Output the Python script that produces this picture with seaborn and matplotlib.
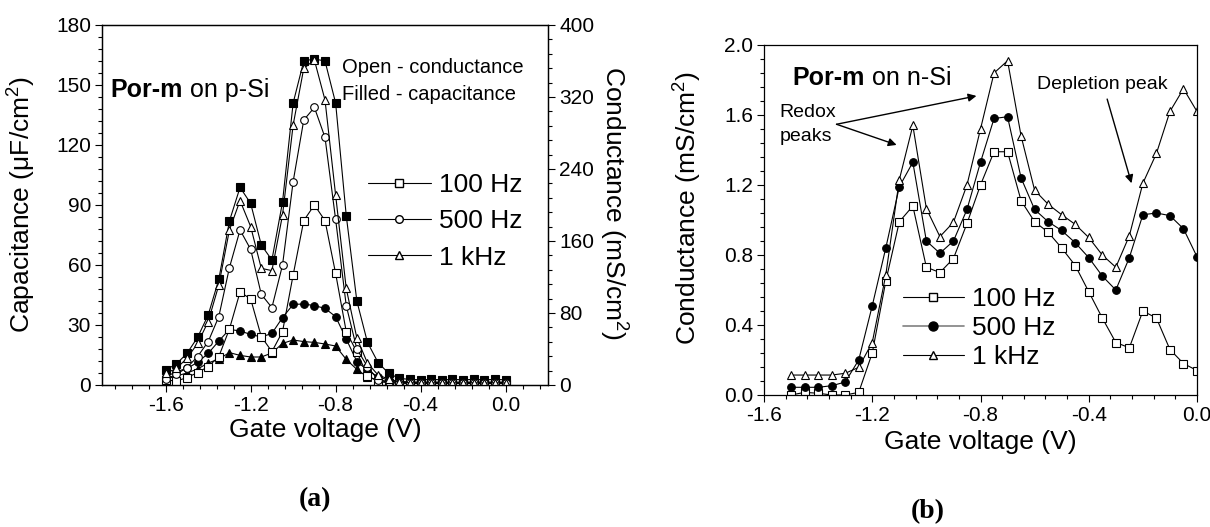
import matplotlib
matplotlib.use("Agg")
import matplotlib.pyplot as plt
from matplotlib.lines import Line2D
from matplotlib.ticker import MultipleLocator, AutoMinorLocator
import seaborn as sns

# ---------------------------------------------------------------
# data
# ---------------------------------------------------------------
# (a) Por-m on p-Si : capacitance (filled, uF/cm2) and conductance (open, mS/cm2)
volt_a = [-1.60, -1.55, -1.50, -1.45, -1.40, -1.35, -1.30, -1.25, -1.20, -1.15, -1.10,
          -1.05, -1.00, -0.95, -0.90, -0.85, -0.80, -0.75, -0.70, -0.65, -0.60,
          -0.55, -0.50, -0.45, -0.40, -0.35, -0.30, -0.25, -0.20, -0.15, -0.10, -0.05, 0.00]

cap_100 = [7.5, 10.5, 15.8, 23.8, 35.0, 52.8, 82.0, 98.8, 90.8, 70.0, 62.5,
           91.5, 141.0, 162.0, 163.0, 162.0, 141.0, 84.7, 42.0, 21.3, 11.2,
           5.8, 3.3, 2.8, 2.6, 2.8, 2.6, 2.8, 2.6, 2.8, 2.6, 2.8, 2.6]
cap_500 = [4.0, 6.7, 8.3, 11.3, 15.8, 22.0, 27.8, 27.0, 25.3, 24.0, 25.8,
           33.7, 40.3, 40.5, 39.7, 38.3, 34.2, 23.0, 11.7, 7.5, 4.0,
           2.5, 1.8, 1.5, 1.5, 1.4, 1.5, 1.4, 1.5, 1.4, 1.5, 1.4, 1.5]
cap_1k = [3.0, 4.5, 6.0, 8.0, 11.0, 13.0, 16.2, 14.8, 14.0, 14.0, 16.0,
          20.8, 22.5, 21.7, 21.3, 20.5, 19.5, 12.8, 7.8, 4.0, 2.5,
          1.8, 1.5, 1.3, 1.2, 1.3, 1.2, 1.3, 1.2, 1.3, 1.2, 1.3, 1.2]

cond_100 = [5.6, 4.4, 8.2, 13.8, 20.4, 31.6, 62.2, 103.3, 95.6, 53.8, 37.1,
            59.3, 122.2, 182.7, 200.0, 182.7, 124.0, 59.3, 36.7, 10.4, 3.8,
            2.5, 2.0, 1.8, 1.6, 1.8, 1.6, 1.8, 1.6, 1.8, 1.6, 1.8, 1.6]
cond_500 = [6.2, 11.8, 19.3, 31.6, 48.2, 76.0, 130.4, 172.2, 150.7, 100.7, 86.0,
            133.3, 226.0, 294.4, 308.4, 275.1, 184.0, 88.2, 40.0, 20.4, 5.6,
            3.0, 2.2, 2.0, 1.8, 2.0, 1.8, 2.0, 1.8, 2.0, 1.8, 2.0, 1.8]
cond_1k = [12.9, 18.4, 29.6, 46.2, 70.4, 111.1, 172.2, 204.9, 176.0, 129.6, 127.1,
           188.9, 288.9, 351.8, 361.1, 316.7, 211.1, 107.3, 52.2, 24.4, 11.1,
           6.5, 3.5, 2.5, 2.2, 2.5, 2.2, 2.5, 2.2, 2.5, 2.2, 2.5, 2.2]

# (b) Por-m on n-Si : conductance (mS/cm2)
volt_b = [-1.50, -1.45, -1.40, -1.35, -1.30, -1.25, -1.20, -1.15, -1.10, -1.05, -1.00,
          -0.95, -0.90, -0.85, -0.80, -0.75, -0.70, -0.65, -0.60, -0.55, -0.50,
          -0.45, -0.40, -0.35, -0.30, -0.25, -0.20, -0.15, -0.10, -0.05, 0.00]
gn_100 = [0.00, 0.015, 0.01, 0.00, 0.00, 0.015, 0.24, 0.65, 0.99, 1.08, 0.73,
          0.70, 0.78, 0.98, 1.20, 1.39, 1.39, 1.11, 0.99, 0.93, 0.84,
          0.74, 0.59, 0.44, 0.30, 0.27, 0.48, 0.44, 0.26, 0.18, 0.14]
gn_500 = [0.044, 0.044, 0.044, 0.053, 0.074, 0.20, 0.51, 0.84, 1.19, 1.33, 0.88,
          0.81, 0.88, 1.06, 1.33, 1.58, 1.59, 1.24, 1.06, 0.99, 0.94,
          0.87, 0.785, 0.68, 0.60, 0.785, 1.03, 1.04, 1.025, 0.95, 0.79]
gn_1k = [0.114, 0.114, 0.114, 0.114, 0.124, 0.158, 0.30, 0.686, 1.23, 1.54, 1.065,
         0.905, 0.987, 1.20, 1.52, 1.84, 1.91, 1.48, 1.17, 1.09, 1.03,
         0.975, 0.90, 0.80, 0.73, 0.91, 1.21, 1.38, 1.62, 1.75, 1.62]

freq_labels = ["100 Hz", "500 Hz", "1 kHz"]

#----------------------------------------------------
# style
#----------------------------------------------------
sns.set_theme(style="ticks", rc={
    "axes.edgecolor": "black", "axes.labelcolor": "black", "text.color": "black",
    "xtick.color": "black", "ytick.color": "black", "axes.linewidth": 0.9,
})
plt.rcParams["font.family"] = ["Liberation Sans", "DejaVu Sans"]
plt.rcParams["mathtext.fontset"] = "custom"
plt.rcParams["mathtext.rm"] = "Liberation Sans"
plt.rcParams["mathtext.it"] = "Liberation Sans:italic"

LW = 0.8
MS = 5.5


def draw(ax, x, y, marker, filled):
    face = "black" if filled else "white"
    sns.lineplot(x=x, y=y, ax=ax, color="black", linewidth=LW, marker=marker,
                 markersize=MS, markerfacecolor=face, markeredgecolor="black",
                 markeredgewidth=0.8, legend=False)


def style_ticks(ax):
    ax.tick_params(axis="both", which="major", direction="out", length=5, width=0.8,
                   labelsize=15, pad=3)
    ax.tick_params(axis="both", which="minor", direction="out", length=3, width=0.8)


fig = plt.figure(figsize=(12.1, 5.27), dpi=100)

#----------------------------------------------------
# panel (a)
#----------------------------------------------------
ax = fig.add_axes([102 / 1210, 1 - 385 / 527, 446 / 1210, 360 / 527])
ax2 = ax.twinx()

draw(ax, volt_a, cap_100, "s", True)
draw(ax, volt_a, cap_500, "o", True)
draw(ax, volt_a, cap_1k, "^", True)
draw(ax2, volt_a, cond_100, "s", False)
draw(ax2, volt_a, cond_500, "o", False)
draw(ax2, volt_a, cond_1k, "^", False)

ax.set_xlim(-1.9, 0.2)
ax.set_ylim(0, 180)
ax2.set_ylim(0, 400)
ax.xaxis.set_major_locator(MultipleLocator(0.4))
ax.xaxis.set_minor_locator(AutoMinorLocator(5))
ax.yaxis.set_major_locator(MultipleLocator(30))
ax.yaxis.set_minor_locator(AutoMinorLocator(5))
ax2.yaxis.set_major_locator(MultipleLocator(80))
ax2.yaxis.set_minor_locator(AutoMinorLocator(5))
ax.xaxis.set_major_formatter(lambda v, p: f"{v:.1f}")
style_ticks(ax)
style_ticks(ax2)
ax.tick_params(top=False, right=False, which="both")
ax2.tick_params(left=False, top=False, which="both")

ax.set_xlabel("Gate voltage (V)", fontsize=19, va="top")
ax.xaxis.set_label_coords(0.5, -0.092)
ax.set_ylabel("Capacitance (\u03bcF/cm$^2$)", fontsize=19)
ax.yaxis.set_label_coords(-0.144, 0.5)
ax2.set_ylabel("Conductance (mS/cm$^2$)", fontsize=19, rotation=270, va="bottom")
ax2.yaxis.set_label_coords(1.11, 0.505)

t1 = ax.text(0.0195, 0.80, "Por-m", transform=ax.transAxes, fontsize=18,
             fontweight="bold", va="baseline", ha="left")
ax.annotate(" on p-Si", xy=(1, 0), xycoords=t1, va="bottom", ha="left", fontsize=18)
ax.text(0.537, 0.8675, "Open - conductance", transform=ax.transAxes, fontsize=14.5,
        va="baseline", ha="left")
ax.text(0.537, 0.7917, "Filled - capacitance", transform=ax.transAxes, fontsize=14.5,
        va="baseline", ha="left")

handles_a = [Line2D([], [], color="black", lw=LW, marker=m, markersize=MS,
                    markerfacecolor="white", markeredgecolor="black")
             for m in ["s", "o", "^"]]
ax2.legend(handles_a, freq_labels, loc="center left", bbox_to_anchor=(0.596, 0.455),
           frameon=False, fontsize=19, handlelength=2.4, handletextpad=0.3,
           labelspacing=0.47, borderpad=0, borderaxespad=0)

#----------------------------------------------------
# panel (b)
#----------------------------------------------------
bx = fig.add_axes([764 / 1210, 1 - 395 / 527, 433 / 1210, 350 / 527])

draw(bx, volt_b, gn_100, "s", False)
draw(bx, volt_b, gn_500, "o", True)
draw(bx, volt_b, gn_1k, "^", False)

bx.set_xlim(-1.6, 0.0)
bx.set_ylim(0, 2.0)
bx.xaxis.set_major_locator(MultipleLocator(0.4))
bx.xaxis.set_minor_locator(AutoMinorLocator(5))
bx.yaxis.set_major_locator(MultipleLocator(0.4))
bx.yaxis.set_minor_locator(AutoMinorLocator(5))
bx.xaxis.set_major_formatter(lambda v, p: f"{v:.1f}")
bx.yaxis.set_major_formatter(lambda v, p: f"{v:.1f}")
style_ticks(bx)
bx.tick_params(top=False, right=False, which="both")

bx.set_xlabel("Gate voltage (V)", fontsize=19, va="top")
bx.xaxis.set_label_coords(0.499, -0.1)
bx.set_ylabel("Conductance (mS/cm$^2$)", fontsize=19)
bx.yaxis.set_label_coords(-0.139, 0.534)

t2 = bx.text(0.0663, 0.8857, "Por-m", transform=bx.transAxes, fontsize=18,
             fontweight="bold", va="baseline", ha="left")
bx.annotate(" on n-Si", xy=(1, 0), xycoords=t2, va="bottom", ha="left", fontsize=18)

bx.text(0.0353, 0.795, "Redox", transform=bx.transAxes, fontsize=14, va="baseline")
bx.text(0.0353, 0.7266, "peaks", transform=bx.transAxes, fontsize=14, va="baseline")
arrow = dict(arrowstyle="-|>", color="black", lw=1.0, mutation_scale=12, shrinkA=0, shrinkB=0)
bx.annotate("", xy=(-1.110, 1.429), xytext=(-1.332, 1.547), arrowprops=arrow)
bx.annotate("", xy=(-0.815, 1.709), xytext=(-1.332, 1.547), arrowprops=arrow)
bx.text(0.631, 0.8734, "Depletion peak", transform=bx.transAxes, fontsize=14, va="baseline")
bx.annotate("", xy=(-0.242, 1.21), xytext=(-0.332, 1.691), arrowprops=arrow)

handles_b = [
    Line2D([], [], color="black", lw=LW, marker="s", markersize=MS,
           markerfacecolor="white", markeredgecolor="black"),
    Line2D([], [], color="gray", lw=1.2, marker="o", markersize=MS + 1,
           markerfacecolor="black", markeredgecolor="black"),
    Line2D([], [], color="black", lw=LW, marker="^", markersize=MS,
           markerfacecolor="white", markeredgecolor="black"),
]
bx.legend(handles_b, freq_labels, loc="center left", bbox_to_anchor=(0.321, 0.191),
          frameon=False, fontsize=19, handlelength=2.3, handletextpad=0.3,
          labelspacing=0.18, borderpad=0, borderaxespad=0)

#----------------------------------------------------
# panel tags
#----------------------------------------------------
fig.text(315 / 1210, 1 - 500 / 527, "(a)", fontsize=20, fontweight="bold",
         family="Liberation Serif", ha="center", va="center")
fig.text(928 / 1210, 1 - 512 / 527, "(b)", fontsize=20, fontweight="bold",
         family="Liberation Serif", ha="center", va="center")

fig.savefig("out.png", dpi=100)
